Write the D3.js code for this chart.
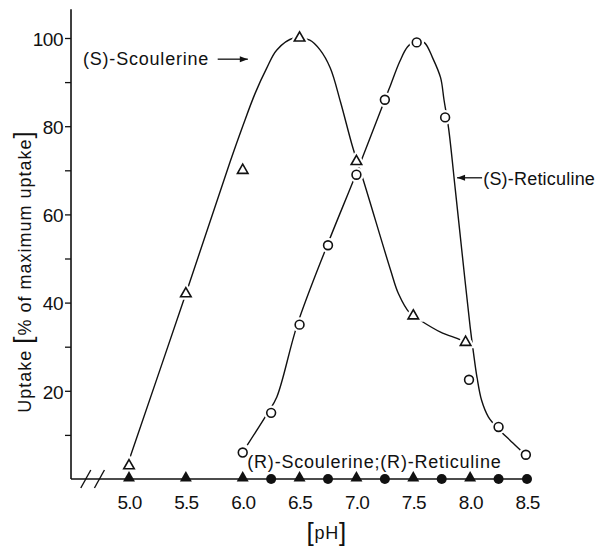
<!DOCTYPE html>
<html>
<head>
<meta charset="utf-8">
<script src="https://cdn.jsdelivr.net/npm/d3@7"></script>
<style>
  body { margin: 0; background: #fff; }
  svg { display: block; }
  .lbl { font-family: 'Liberation Sans', Arial, sans-serif; font-size: 18px; letter-spacing: 0.8px; fill: #111; }
  .tick text { font-family: 'Liberation Sans Narrow', 'Liberation Sans', Arial, sans-serif; font-size: 19px; fill: #111; }
</style>
</head>
<body>
<svg id="chart" width="602" height="548"></svg>
<script>
// pH values and uptake (% of maximum)
const pHTicks = [5.0, 5.5, 6.0, 6.5, 7.0, 7.5, 8.0, 8.5]
const yTicks = [10, 20, 30, 40, 50, 60, 70, 80, 90, 100]

// measured points
const scoulerinePH = [5.0, 5.5, 6.0, 6.5, 7.0, 7.5, 7.96]
const scoulerineUptake = [3, 42, 70, 100, 72, 37, 31]

const reticulinePH = [6.0, 6.25, 6.5, 6.75, 7.0, 7.25, 7.53, 7.78, 7.99, 8.25, 8.49]
const reticulineUptake = [6, 15, 35, 53, 69, 86, 99, 82, 22.5, 11.8, 5.5]

// hand-drawn fit curves
const scoulerineFitPH = [5.01, 5.5, 5.89, 6.0, 6.11, 6.21, 6.3, 6.45, 6.59, 6.68, 6.77, 6.86, 6.97, 7.06, 7.3, 7.37, 7.47, 7.56, 7.74, 7.91, 7.95]
const scoulerineFitUptake = [5, 42, 72, 80, 87.5, 93.1, 97.3, 100, 99.5, 97.3, 93.2, 85.5, 75, 67.8, 47.4, 42, 37.6, 36, 33.3, 31.6, 31]

const reticulineFitPH = [6.04, 6.22, 6.3, 6.48, 6.74, 7.0, 7.25, 7.3, 7.38, 7.45, 7.53, 7.6, 7.67, 7.74, 7.77, 7.81, 7.87, 7.955, 8.0, 8.03, 8.06, 8.1, 8.16, 8.25, 8.35, 8.44, 8.48]
const reticulineFitUptake = [7.7, 15, 18.6, 35, 52.8, 69.4, 86, 89.3, 94.6, 98, 99.5, 98.9, 95.5, 91, 86, 79.6, 65.5, 45, 34.5, 28.5, 23.1, 17.9, 14.1, 11.3, 8.8, 6.6, 5.8]

// (R)-enantiomers: no uptake
const rScoulerinePH = [5.0, 5.5, 6.0, 6.5, 7.0, 7.5, 8.0]
const rReticulinePH = [6.25, 6.75, 7.25, 7.75, 8.25, 8.5]

const svg = d3.select('#chart')
const x = d3.scaleLinear().domain([5.0, 8.5]).range([129, 527])
const y = d3.scaleLinear().domain([0, 100]).range([479, 38])
const xLeft = x(4.49)

// y axis
const yAxis = d3.axisLeft(y)
    .tickValues(yTicks)
    .tickSize(6)
    .tickPadding(2)
    .tickFormat((d) => (d % 20 === 0 ? d : ''))
const gy = svg.append('g')
    .attr('transform', `translate(${xLeft},0)`)
    .call(yAxis)
gy.select('.domain').remove()
gy.selectAll('.tick line').attr('stroke', '#111').attr('stroke-width', 1.3)
gy.selectAll('.tick text').attr('dy', '0.38em').style('letter-spacing', '-0.5px')
svg.append('line')
    .attr('x1', xLeft).attr('x2', xLeft)
    .attr('y1', y(0)).attr('y2', y(106.5))
    .attr('stroke', '#111').attr('stroke-width', 1.6)

// x axis
const xAxis = d3.axisBottom(x)
    .tickValues(pHTicks)
    .tickSize(0)
    .tickPadding(17)
    .tickFormat(d3.format('.1f'))
const gx = svg.append('g')
    .attr('transform', `translate(0,${y(0)})`)
    .call(xAxis)
gx.select('.domain').remove()
gx.selectAll('.tick text').style('letter-spacing', '-0.8px')
svg.append('line')
    .attr('x1', xLeft).attr('x2', x(8.5))
    .attr('y1', y(0)).attr('y2', y(0))
    .attr('stroke', '#111').attr('stroke-width', 1.6)

// axis break
;[4.62, 4.74].forEach((p) => {
    svg.append('line')
        .attr('x1', x(p) - 5).attr('y1', y(0) + 9)
        .attr('x2', x(p) + 5).attr('y2', y(0) - 9)
        .attr('stroke', '#111').attr('stroke-width', 1.4)
})

// fitted curves
const line = d3.line()
    .x((d) => x(d[0]))
    .y((d) => y(d[1]))
    .curve(d3.curveCatmullRom.alpha(0.5))

const scoulerine = d3.zip(scoulerinePH, scoulerineUptake)
const reticuline = d3.zip(reticulinePH, reticulineUptake)

svg.append('path')
    .datum(d3.zip(scoulerineFitPH, scoulerineFitUptake))
    .attr('d', line)
    .attr('fill', 'none')
    .attr('stroke', '#111')
    .attr('stroke-width', 1.4)
svg.append('path')
    .datum(d3.zip(reticulineFitPH, reticulineFitUptake))
    .attr('d', line)
    .attr('fill', 'none')
    .attr('stroke', '#111')
    .attr('stroke-width', 1.4)

// open markers with white halo so the curves break around them
const tri = d3.symbol(d3.symbolTriangle, 48)
const markers = svg.append('g')
markers.selectAll('.halo-c')
    .data(reticuline)
    .join('circle')
    .attr('cx', (d) => x(d[0]))
    .attr('cy', (d) => y(d[1]))
    .attr('r', 4.4)
    .attr('fill', '#fff')
    .attr('stroke', '#fff')
    .attr('stroke-width', 6)
markers.selectAll('.halo-t')
    .data(scoulerine)
    .join('path')
    .attr('d', tri)
    .attr('transform', (d) => `translate(${x(d[0])},${y(d[1])})`)
    .attr('fill', '#fff')
    .attr('stroke', '#fff')
    .attr('stroke-width', 6)
markers.selectAll('.ret')
    .data(reticuline)
    .join('circle')
    .attr('cx', (d) => x(d[0]))
    .attr('cy', (d) => y(d[1]))
    .attr('r', 4.4)
    .attr('fill', '#fff')
    .attr('stroke', '#111')
    .attr('stroke-width', 1.6)
markers.selectAll('.sco')
    .data(scoulerine)
    .join('path')
    .attr('d', tri)
    .attr('transform', (d) => `translate(${x(d[0])},${y(d[1])})`)
    .attr('fill', '#fff')
    .attr('stroke', '#111')
    .attr('stroke-width', 1.6)

// (R)-forms on the baseline
markers.selectAll('.rsco')
    .data(rScoulerinePH)
    .join('path')
    .attr('d', d3.symbol(d3.symbolTriangle, 62))
    .attr('transform', (d) => `translate(${x(d)},${y(0) - 1})`)
    .attr('fill', '#111')
markers.selectAll('.rret')
    .data(rReticulinePH)
    .join('circle')
    .attr('cx', (d) => x(d))
    .attr('cy', y(0))
    .attr('r', 5)
    .attr('fill', '#111')

// labels and arrows
const arrow = (x1, x2, yy) => {
    svg.append('line')
        .attr('x1', x1).attr('x2', x2).attr('y1', yy).attr('y2', yy)
        .attr('stroke', '#111').attr('stroke-width', 1.3)
    const dir = x2 > x1 ? 1 : -1
    svg.append('path')
        .attr('d', `M${x2},${yy} L${x2 - dir * 8},${yy - 3} L${x2 - dir * 8},${yy + 3} Z`)
        .attr('fill', '#111')
}

svg.append('text').attr('class', 'lbl')
    .attr('x', x(4.595)).attr('y', y(93.8))
    .text('(S)-Scoulerine')
arrow(x(5.78), x(6.045), y(95.2))

arrow(x(8.105), x(7.885), y(68.3))
svg.append('text').attr('class', 'lbl')
    .attr('x', x(8.115)).attr('y', y(66.7))
    .style('letter-spacing', '0.2px')
    .text('(S)-Reticuline')

svg.append('text').attr('class', 'lbl')
    .attr('x', x(6.04)).attr('y', y(2.5))
    .text('(R)-Scoulerine;(R)-Reticuline')

// axis titles
svg.append('text').attr('class', 'lbl')
    .attr('transform', `translate(31,${y(15)}) rotate(-90)`)
    .style('letter-spacing', '1px')
    .call((t) => {
        t.append('tspan').text('Uptake ')
        t.append('tspan').style('font-size', '26px').attr('dy', 1).text('[')
        t.append('tspan').attr('dy', -1).text('% of maximum uptake')
        t.append('tspan').style('font-size', '26px').attr('dy', 1).text(']')
    })

svg.append('text').attr('class', 'lbl')
    .attr('x', x(6.56)).attr('y', 541)
    .call((t) => {
        t.append('tspan').style('font-size', '26px').text('[')
        t.append('tspan').attr('dy', -2).text('pH')
        t.append('tspan').style('font-size', '26px').attr('dy', 2).text(']')
    })
</script>
</body>
</html>
